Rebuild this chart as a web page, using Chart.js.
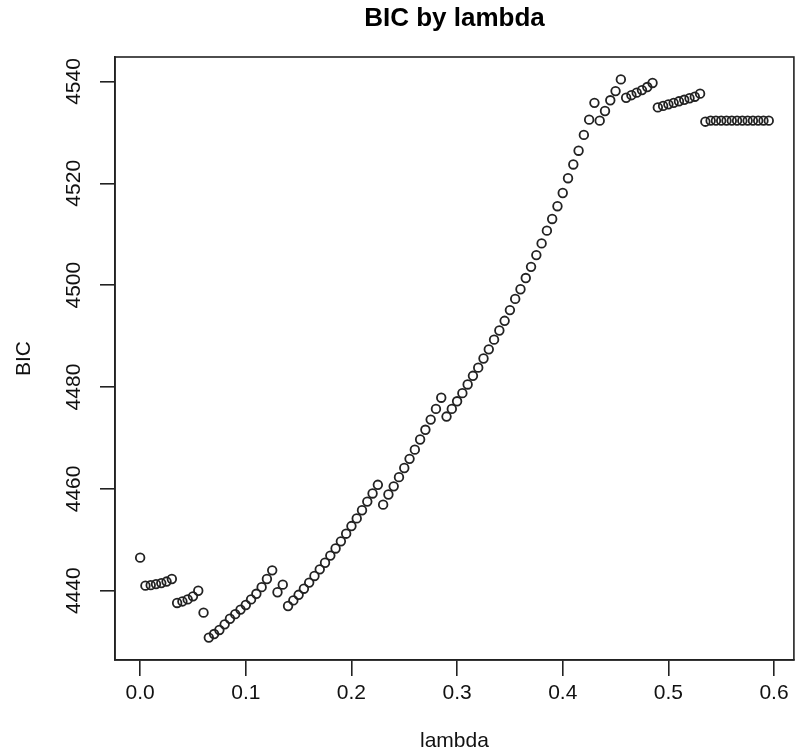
<!DOCTYPE html>
<html><head><meta charset="utf-8">
<script src="https://cdn.jsdelivr.net/npm/chart.js@4.4.1/dist/chart.umd.min.js"></script>
<style>html,body{margin:0;padding:0;background:#fff}#wrap{width:800px;height:754px}</style>
</head><body><div id="wrap"><canvas id="c" width="800" height="754"></canvas></div>
<script>
const lambdaValues = [0,0.005,0.01,0.015,0.02,0.025,0.03,0.035,0.04,0.045,0.05,0.055,0.06,0.065,0.07,0.075,0.08,0.085,0.09,0.095,0.1,0.105,0.11,0.115,0.12,0.125,0.13,0.135,0.14,0.145,0.15,0.155,0.16,0.165,0.17,0.175,0.18,0.185,0.19,0.195,0.2,0.205,0.21,0.215,0.22,0.225,0.23,0.235,0.24,0.245,0.25,0.255,0.26,0.265,0.27,0.275,0.28,0.285,0.29,0.295,0.3,0.305,0.31,0.315,0.32,0.325,0.33,0.335,0.34,0.345,0.35,0.355,0.36,0.365,0.37,0.375,0.38,0.385,0.39,0.395,0.4,0.405,0.41,0.415,0.42,0.425,0.43,0.435,0.44,0.445,0.45,0.455,0.46,0.465,0.47,0.475,0.48,0.485,0.49,0.495,0.5,0.505,0.51,0.515,0.52,0.525,0.53,0.535,0.54,0.545,0.55,0.555,0.56,0.565,0.57,0.575,0.58,0.585,0.59,0.595];
const bicValues = [4446.5,4441.0,4441.1,4441.3,4441.5,4441.8,4442.3,4437.6,4437.9,4438.3,4438.9,4440.0,4435.7,
4430.8,4431.5,4432.3,4433.4,4434.5,4435.4,4436.3,4437.2,4438.3,4439.4,4440.7,4442.3,4444.0,
4439.7,4441.2,
4437.0,4438.1,4439.2,4440.4,4441.6,4442.9,4444.2,4445.5,4446.9,4448.3,4449.7,4451.2,4452.7,4454.2,4455.8,4457.5,4459.1,4460.8,
4456.9,4458.9,4460.5,4462.3,4464.1,4465.9,4467.7,4469.7,4471.6,4473.6,4475.7,4477.9,
4474.2,4475.7,4477.2,4478.8,4480.5,4482.2,4483.8,4485.6,4487.4,4489.3,4491.1,4493.0,4495.1,4497.3,4499.2,4501.4,4503.6,4505.9,4508.2,4510.7,4513.0,4515.5,4518.1,4521.0,4523.7,4526.4,4529.5,4532.5,4535.8,
4532.3,4534.2,4536.3,4538.1,4540.4,
4536.8,4537.3,4537.8,4538.3,4538.9,4539.7,
4534.9,4535.2,4535.5,4535.8,4536.1,4536.4,4536.7,4537.0,4537.6,
4532.1,4532.3,4532.3,4532.3,4532.3,4532.3,4532.3,4532.3,4532.3,4532.3,4532.3,4532.3,4532.3];
const xTickValues = [0, 0.1, 0.2, 0.3, 0.4, 0.5, 0.6];
const yTickValues = [4440, 4460, 4480, 4500, 4520, 4540];

const points = lambdaValues.map((x, i) => ({x: x, y: bicValues[i]}));
const FONT = 'Liberation Sans, Arial, Helvetica, sans-serif';
const INK = '#222222';

const boxPlugin = {
  id: 'box',
  afterDatasetsDraw(chart) {
    const a = chart.chartArea, ctx = chart.ctx;
    ctx.save();
    ctx.strokeStyle = INK;
    ctx.lineWidth = 1.6;
    ctx.strokeRect(a.left, a.top, a.right - a.left, a.bottom - a.top);
    ctx.restore();
  }
};

new Chart(document.getElementById('c'), {
  type: 'scatter',
  data: { datasets: [{
    data: points,
    pointRadius: 4.3,
    pointBorderWidth: 1.8,
    pointBorderColor: INK,
    pointBackgroundColor: 'rgba(0,0,0,0)',
    showLine: false
  }]},
  options: {
    responsive: false,
    animation: false,
    devicePixelRatio: 1,
    layout: { padding: { top: 0, right: 5, left: 0, bottom: 0 } },
    plugins: {
      legend: { display: false },
      tooltip: { enabled: false },
      title: {
        display: true, text: 'BIC by lambda', fullSize: false, color: '#000',
        font: { family: FONT, size: 26, weight: 'bold', lineHeight: 1.2 },
        padding: { top: 3, bottom: 22.8 }
      }
    },
    scales: {
      x: {
        type: 'linear', min: -0.0238, max: 0.6188,
        afterBuildTicks: s => { s.ticks = xTickValues.map(v => ({ value: v })); },
        afterFit: s => { s.height = 94; },
        grid: { display: true, drawOnChartArea: false, drawTicks: true, tickLength: 16, color: INK, lineWidth: 1.6 },
        border: { display: true, color: INK, width: 1.6 },
        ticks: { autoSkip: false, maxRotation: 0, minRotation: 0, color: '#111', padding: 5,
          font: { family: FONT, size: 21 }, callback: v => Number(v).toFixed(1) },
        title: { display: true, text: 'lambda', color: '#111', font: { family: FONT, size: 21, lineHeight: 1.2 },
          padding: { top: 0, bottom: 0 } }
      },
      y: {
        type: 'linear', min: 4426.4, max: 4544.8,
        afterBuildTicks: s => { s.ticks = yTickValues.map(v => ({ value: v })); },
        afterFit: s => { s.width = 115; },
        grid: { display: true, drawOnChartArea: false, drawTicks: true, tickLength: 15, color: INK, lineWidth: 1.6 },
        border: { display: true, color: INK, width: 1.6 },
        ticks: { autoSkip: false, minRotation: 90, maxRotation: 90, crossAlign: 'center', color: '#111', padding: 2,
          font: { family: FONT, size: 21 }, callback: v => String(v) },
        title: { display: true, text: 'BIC', color: '#111', font: { family: FONT, size: 21, lineHeight: 1.2 },
          padding: { top: 12, bottom: 0 } }
      }
    }
  },
  plugins: [boxPlugin]
});
</script>
</body></html>
